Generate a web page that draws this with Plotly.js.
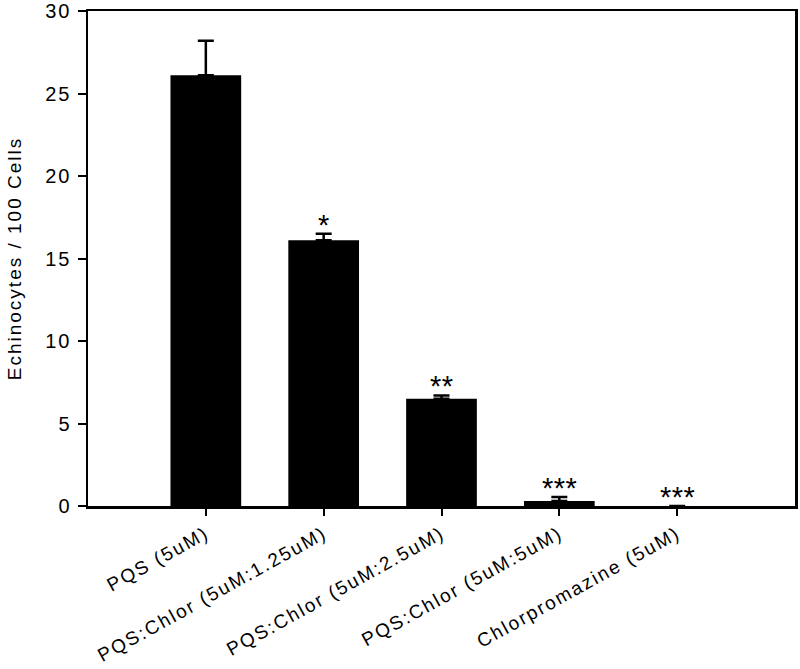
<!DOCTYPE html>
<html>
<head>
<meta charset="utf-8">
<script src="https://cdn.plot.ly/plotly-3.0.1.min.js"></script>
<style>
html,body{margin:0;padding:0;background:#fff;}
#chart{width:800px;height:669px;}
text{letter-spacing:2px;}
text.annotation-text{letter-spacing:0.5px;}
</style>
</head>
<body>
<div id="chart"></div>
<script>
const categories = ["PQS (5uM)", "PQS:Chlor (5uM:1.25uM)", "PQS:Chlor (5uM:2.5uM)", "PQS:Chlor (5uM:5uM)", "Chlorpromazine (5uM)"];
const values = [26.1, 16.1, 6.5, 0.3, 0];
const errors = [2.1, 0.4, 0.2, 0.25, 0];
const significance = ["", "*", "**", "***", "***"];
const yTicks = [0, 5, 10, 15, 20, 25, 30];

const xIdx = categories.map((c, i) => i);

const trace = {
  type: "bar",
  x: xIdx,
  y: values,
  width: 0.6,
  marker: {color: "#000", line: {color: "#000", width: 0}},
  error_y: {type: "data", array: errors, arrayminus: errors.map(() => 0), symmetric: false,
            color: "#000", thickness: 2.5, width: 8},
  hoverinfo: "skip"
};

const annotations = significance.map((s, i) => ({
  x: xIdx[i], y: values[i] + errors[i], xref: "x", yref: "y",
  text: s, showarrow: false, yanchor: "bottom", yshift: -9,
  font: {family: "Liberation Sans, Arial, sans-serif", size: 29, color: "#000"}
})).filter(a => a.text !== "");

const layout = {
  width: 800, height: 669,
  margin: {l: 88, r: 5, t: 11, b: 163},
  paper_bgcolor: "#fff", plot_bgcolor: "#fff",
  showlegend: false,
  font: {family: "Liberation Sans, Arial, sans-serif", color: "#000"},
  xaxis: {
    range: [-1, 5], tickvals: xIdx, ticktext: categories, tickangle: -29,
    ticks: "outside", ticklen: 7, tickwidth: 2, tickcolor: "#000",
    showline: true, linecolor: "#000", linewidth: 2.5, mirror: true,
    showgrid: false, zeroline: false, tickfont: {size: 19}, ticklabeloverflow: "allow"
  },
  yaxis: {
    range: [0, 30], tickvals: yTicks, ticks: "outside", ticklen: 8, tickwidth: 2, tickcolor: "#000",
    showline: true, linecolor: "#000", linewidth: 2.5, mirror: true,
    showgrid: false, zeroline: false, tickfont: {size: 20}, ticklabelstandoff: 2,
    ticklabeloverflow: "allow",
    title: {text: "Echinocytes / 100 Cells", font: {size: 19}, standoff: 19}
  },
  annotations: annotations
};

Plotly.newPlot("chart", [trace], layout, {displayModeBar: false, staticPlot: true});
</script>
</body>
</html>
